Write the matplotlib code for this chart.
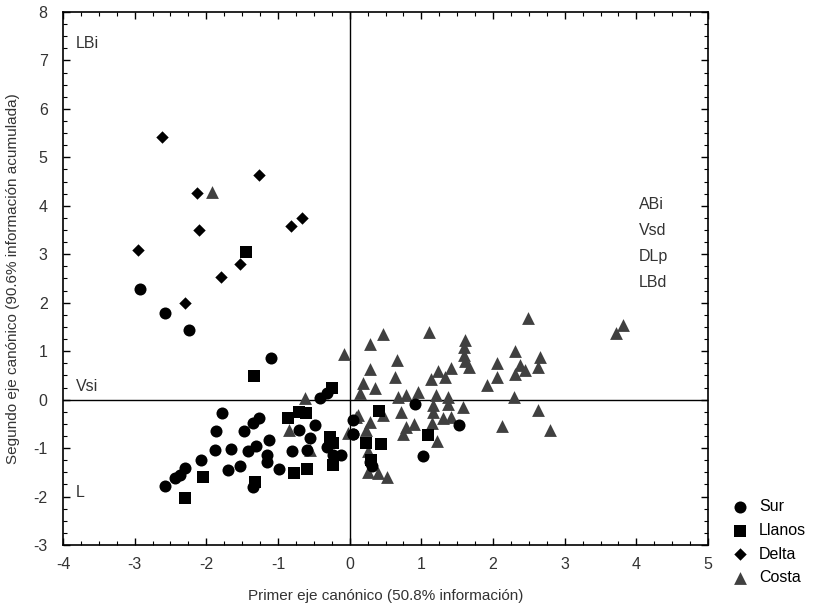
import numpy as np
import matplotlib
matplotlib.use("Agg")
import matplotlib.pyplot as plt
from matplotlib.ticker import MultipleLocator

# group scores (first / second canonical axis)
sur_x = [-2.93, -2.57, -2.24, -1.10, -0.42, -0.32, -1.78, -1.86, -1.26, -1.35, -1.48, -1.88,
         -1.66, -2.08, -2.30, -2.37, -2.44, -2.57, -1.70, -1.53, -1.42, -1.30, -1.12, -1.16,
         -1.16, -0.99, -1.35, -0.80, -0.71, -0.49, -0.55, -0.60, -0.32, -0.23, -0.12, 0.05,
         0.05, 0.91, 1.53, 1.02, 0.05, 0.28, 0.31]
sur_y = [2.28, 1.79, 1.43, 0.85, 0.03, 0.13, -0.27, -0.64, -0.37, -0.49, -0.64, -1.04,
         -1.01, -1.25, -1.42, -1.56, -1.62, -1.78, -1.45, -1.37, -1.07, -0.96, -0.83, -1.14,
         -1.28, -1.44, -1.80, -1.07, -0.63, -0.52, -0.80, -1.04, -0.98, -1.14, -1.14, -0.42,
         -0.70, -0.08, -0.52, -1.16, -0.71, -1.28, -1.37]

llanos_x = [-1.45, -1.33, -0.25, -0.86, -0.61, -0.70, -0.28, -0.23, -0.23, -0.77, -0.60,
            -2.05, -2.30, -1.32, 0.41, 0.44, 1.09, 0.23, 0.30]
llanos_y = [3.05, 0.49, 0.25, -0.37, -0.27, -0.25, -0.78, -0.90, -1.35, -1.52, -1.44,
            -1.60, -2.02, -1.69, -0.23, -0.92, -0.74, -0.90, -1.25]

delta_x = [-2.62, -1.26, -2.13, -2.10, -0.82, -0.66, -2.96, -1.53, -1.80, -2.30]
delta_y = [5.41, 4.64, 4.27, 3.50, 3.58, 3.74, 3.09, 2.80, 2.53, 1.99]

costa_x = [-1.92, -0.62, -0.84, -0.55, -0.02, 0.09, -0.08, 0.28, 0.46, 1.10, 0.66, 0.29,
           0.63, 0.19, 0.35, 0.14, 0.67, 0.79, 0.95, 1.21, 1.37, 1.23, 1.13, 1.33, 1.41,
           1.61, 1.60, 1.59, 1.61, 1.67, 0.71, 0.90, 0.79, 0.74, 1.16, 1.16, 1.15, 1.37,
           1.42, 1.58, 1.30, 1.22, 0.46, 0.12, 0.28, 0.23, 0.26, 0.25, 0.39, 0.52, 1.91,
           2.05, 2.05, 2.30, 2.30, 2.37, 2.44, 2.49, 2.65, 2.63, 2.29, 2.63, 2.12, 2.80,
           3.72, 3.81]
costa_y = [4.29, 0.03, -0.63, -1.03, -0.68, -0.35, 0.94, 1.14, 1.35, 1.39, 0.82, 0.63,
           0.46, 0.34, 0.23, 0.13, 0.05, 0.09, 0.16, 0.09, 0.05, 0.60, 0.42, 0.47, 0.66,
           1.24, 1.09, 0.92, 0.80, 0.67, -0.25, -0.50, -0.56, -0.71, -0.11, -0.25, -0.49,
           -0.08, -0.35, -0.15, -0.37, -0.85, -0.32, -0.32, -0.46, -0.63, -1.07, -1.49,
           -1.52, -1.60, 0.30, 0.47, 0.75, 1.01, 0.53, 0.71, 0.61, 1.68, 0.87, 0.67, 0.06,
           -0.21, -0.54, -0.63, 1.37, 1.54]

var_left = ["LBi", "Vsi", "L"]
var_left_y = [7.36, 0.28, -1.91]
var_right = ["ABi", "Vsd", "DLp", "LBd"]
var_right_y = [4.02, 3.50, 2.96, 2.42]

plt.rcParams['font.family'] = ['Liberation Sans', 'DejaVu Sans']
plt.rcParams['axes.unicode_minus'] = False

fig = plt.figure(figsize=(8.21, 6.12), dpi=100)
ax = fig.add_axes([0.0767, 0.1095, 0.7857, 0.8709])

ax.axhline(0, color="black", lw=1, zorder=1)
ax.axvline(0, color="black", lw=1, zorder=1)

ax.scatter(sur_x, sur_y, marker="o", s=75, color="black", lw=0, label="Sur", zorder=3)
ax.scatter(llanos_x, llanos_y, marker="s", s=80, color="black", lw=0, label="Llanos", zorder=3)
ax.scatter(delta_x, delta_y, marker="D", s=40, color="black", lw=0, label="Delta", zorder=3)
ax.scatter(costa_x, costa_y, marker="^", s=85, color="#404040", lw=0, label="Costa", zorder=2)

for name, yv in zip(var_left, var_left_y):
    ax.text(-3.82, yv, name, fontsize=11.5, color="#333333", va="center", ha="left")
for name, yv in zip(var_right, var_right_y):
    ax.text(4.04, yv, name, fontsize=11.5, color="#333333", va="center", ha="left")

ax.set_xlim(-4, 5)
ax.set_ylim(-3, 8)
ax.xaxis.set_major_locator(MultipleLocator(1))
ax.xaxis.set_minor_locator(MultipleLocator(0.25))
ax.yaxis.set_major_locator(MultipleLocator(1))
ax.yaxis.set_minor_locator(MultipleLocator(0.25))
ax.tick_params(which="both", direction="in", top=True, right=True, labelsize=11.5,
               colors="black", labelcolor="#333333")
ax.tick_params(which="major", length=5, width=1)
ax.tick_params(axis="x", which="major", pad=9)
ax.tick_params(axis="y", which="major", pad=11)
ax.tick_params(which="minor", length=3, width=0.8)
for sp in ax.spines.values():
    sp.set_linewidth(1.2)

ax.set_xlabel("Primer eje canónico (50.8% información)", fontsize=11, color="#333333", labelpad=12)
ax.set_ylabel("Segundo eje canónico (90.6% información acumulada)", fontsize=11, color="#333333",
              labelpad=10)

fig.legend(loc="lower left", bbox_to_anchor=(0.874, 0.033), frameon=False, fontsize=11.5,
           handletextpad=0.2, labelspacing=0.55, markerscale=1.0, borderaxespad=0)

fig.savefig("out.png", dpi=100)
